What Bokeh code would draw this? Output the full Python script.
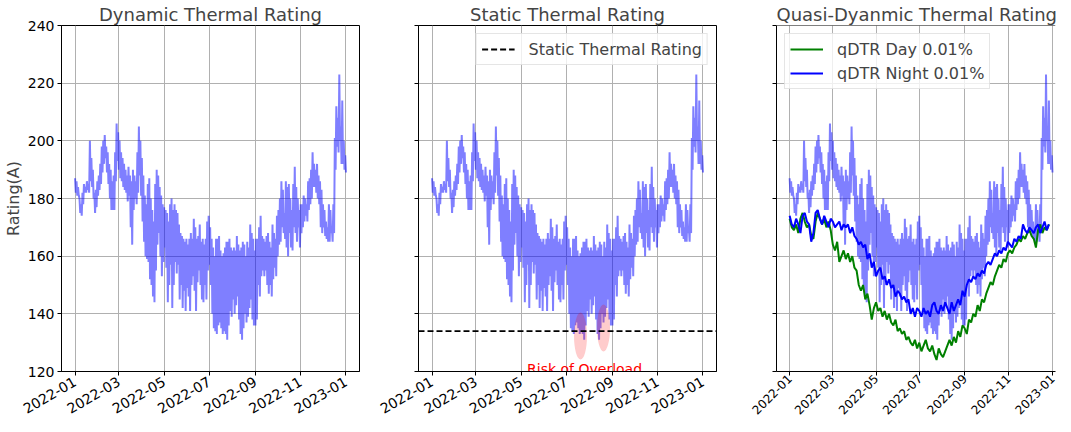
import numpy as np
import pandas as pd
from bokeh.plotting import figure
from bokeh.layouts import row
from bokeh.models import Range1d, FixedTicker, Legend, LegendItem, Span
from bokeh.core.properties import value
from bokeh.embed import file_html
from bokeh.resources import INLINE

# ---------------- data ----------------
start_date = "2022-01-01"
dtr_step_days = 2
dtr_upper = [187, 186, 184, 180, 178, 182, 185, 184, 186, 185,
             200, 194, 190, 182, 183, 186, 188, 192, 198, 200,
             202, 198, 196, 192, 190, 186, 188, 196, 206, 203,
             200, 196, 194, 192, 190, 188, 191, 188, 186, 190,
             188, 186, 196, 205, 200, 194, 188, 181, 178, 185,
             187, 180, 176, 172, 185, 190, 188, 184, 181, 178,
             177, 176, 175, 172, 178, 180, 176, 178, 176, 175,
             171, 168, 167, 166, 165, 166, 164, 166, 168, 166,
             173, 170, 166, 167, 171, 165, 166, 164, 166, 172,
             174, 170, 166, 163, 160, 166, 166, 167, 162, 160,
             161, 163, 165, 165, 166, 163, 162, 163, 162, 167,
             164, 162, 163, 165, 164, 160, 165, 163, 171, 168,
             166, 162, 166, 166, 170, 174, 167, 166, 165, 167,
             168, 165, 163, 171, 168, 166, 174, 176, 180, 186,
             183, 175, 186, 184, 185, 180, 176, 185, 191, 184,
             180, 176, 178, 178, 181, 180, 178, 186, 187, 190,
             196, 192, 190, 192, 188, 186, 183, 178, 176, 172,
             170, 178, 176, 170, 178, 201, 212, 208, 223, 205,
             214, 200, 195]
dtr_lower = [182, 181, 181, 175, 174, 178, 182, 182, 183, 182,
             186, 184, 180, 175, 177, 181, 183, 185, 189, 192,
             194, 189, 185, 180, 176, 176, 176, 186, 193, 190,
             187, 186, 184, 183, 182, 179, 181, 170, 164, 176,
             180, 178, 182, 188, 181, 172, 165, 160, 159, 158,
             152, 150, 146, 144, 155, 164, 168, 160, 153, 158,
             163, 156, 144, 150, 157, 142, 150, 158, 154, 157,
             145, 150, 142, 148, 141, 149, 146, 141, 150, 153,
             148, 141, 151, 155, 150, 145, 144, 150, 145, 155,
             157, 150, 140, 135, 134, 133, 136, 137, 135, 133,
             134, 133, 131, 136, 141, 139, 145, 140, 143, 146,
             138, 133, 131, 135, 140, 137, 139, 142, 145, 138,
             136, 136, 138, 150, 146, 153, 155, 153, 155, 150,
             147, 150, 146, 152, 156, 153, 160, 164, 165, 170,
             168, 166, 163, 160, 168, 163, 162, 170, 168, 165,
             170, 163, 168, 170, 172, 174, 172, 176, 178, 180,
             184, 184, 182, 180, 178, 170, 168, 170, 167, 166,
             165, 165, 168, 165, 168, 190, 198, 196, 200, 192,
             192, 190, 189]

qdtr_step_days = 3
qdtr_day = [173, 170, 169, 171, 168, 173, 175, 172, 170, 171,
            167, 166, 172, 175, 173, 171, 173, 170, 172, 169,
            164, 162, 165, 158, 160, 162, 159, 161, 158, 160,
            156, 155, 150, 148, 150, 145, 147, 143, 138, 142,
            144, 141, 142, 139, 141, 138, 140, 137, 136, 138,
            134, 135, 133, 134, 131, 132, 130, 129, 131, 128,
            130, 127, 129, 131, 128, 127, 129, 126, 124, 128,
            126, 125, 127, 129, 131, 129, 132, 130, 134, 132,
            136, 135, 133, 138, 137, 140, 139, 143, 141, 145,
            144, 147, 149, 151, 150, 153, 155, 157, 156, 159,
            158, 161, 162, 161, 163, 164, 166, 165, 167, 166,
            168, 169, 167, 166, 163, 169, 171, 168, 170, 169,
            171]
qdtr_night = [174, 171, 170, 173, 171, 168, 174, 175, 172, 171,
              165, 168, 175, 176, 173, 171, 174, 172, 170, 173,
              172, 170, 171, 172, 169, 171, 170, 171, 168, 170,
              167, 166, 164, 165, 163, 164, 159, 161, 156, 158,
              153, 155, 156, 152, 153, 150, 152, 149, 150, 146,
              148, 147, 145, 146, 144, 145, 140, 142, 139, 142,
              141, 139, 142, 140, 141, 139, 143, 144, 141, 140,
              143, 141, 144, 142, 140, 144, 141, 143, 145, 143,
              148, 146, 150, 152, 151, 153, 152, 154, 153, 155,
              154, 157, 158, 157, 159, 161, 160, 162, 161, 163,
              162, 165, 164, 163, 166, 165, 167, 166, 171, 169,
              168, 170, 169, 168, 170, 171, 168, 170, 172, 169,
              171]

static_rating = 134
overload_dates = ["2022-07-20", "2022-08-20"]
overload_levels = [132.3, 135.1]
overload_label = "Risk of Overload"
overload_label_date = "2022-05-09"
overload_label_level = 121

tick_labels = ["2022-01", "2022-03", "2022-05", "2022-07", "2022-09", "2022-11", "2023-01"]
y_ticks = [120, 140, 160, 180, 200, 220, 240]
titles = ["Dynamic Thermal Rating", "Static Thermal Rating", "Quasi-Dyanmic Thermal Rating"]

# ---------------- derived ----------------
t0 = pd.Timestamp(start_date)
day = pd.Timedelta(days=1)
dtr_x, dtr_y = [], []
for i, (u, l) in enumerate(zip(dtr_upper, dtr_lower)):
    dtr_x.append(t0 + i * dtr_step_days * day)
    dtr_y.append(u)
    dtr_x.append(t0 + (i * dtr_step_days + 1) * day)
    dtr_y.append(l)
dtr_x = pd.DatetimeIndex(dtr_x)
q_x = pd.DatetimeIndex([t0 + i * qdtr_step_days * day for i in range(len(qdtr_day))])

def ms(ts):
    return pd.Timestamp(ts).value / 1e6

DAY_MS = 86400000.0
tick_ms = [ms(l + "-01") for l in tick_labels]
data_first = ms(dtr_x[0])
data_last = ms(t0 + pd.Timedelta(days=364, hours=23))
margin = 0.05 * (data_last - data_first)
x0 = data_first - margin
x1 = data_last + margin

FONT = "DejaVu Sans"
FRAME_W = 298
FRAME_H = 346
FRAME3_W = 279
# panel 3: same left margin, last tick 3px inside the frame
px_per_ms3 = (FRAME3_W - 3) / (tick_ms[-1] - x0)
x1_3 = x0 + FRAME3_W / px_per_ms3


def make_fig(frame_w, bl, br, xend, title, angle, label_size, label_standoff, show_ylabels):
    p = figure(frame_width=frame_w, frame_height=FRAME_H, x_axis_type="datetime",
               x_range=Range1d(x0, xend), y_range=Range1d(120, 240),
               output_backend="svg", toolbar_location=None,
               min_border_left=bl, min_border_right=br,
               min_border_top=20, min_border_bottom=50, title=title)
    p.title.text_font = FONT
    p.title.text_font_size = "18px"
    p.title.text_font_style = "normal"
    p.title.align = "center"
    p.title.standoff = 2
    p.outline_line_color = "black"
    p.outline_line_width = 1
    p.outline_line_alpha = 1
    p.background_fill_color = "white"
    p.border_fill_color = "white"
    p.xaxis.ticker = FixedTicker(ticks=tick_ms)
    p.xaxis.major_label_overrides = {t: l for t, l in zip(tick_ms, tick_labels)}
    p.xaxis.major_label_orientation = angle
    p.yaxis.ticker = FixedTicker(ticks=y_ticks)
    for ax in (p.xaxis[0], p.yaxis[0]):
        ax.major_label_text_font = FONT
        ax.major_label_text_font_size = "14px"
        ax.major_label_text_color = "black"
        ax.major_tick_out = 4
        ax.major_tick_in = 0
        ax.minor_tick_out = 0
        ax.minor_tick_in = 0
        ax.axis_line_color = "black"
        ax.major_tick_line_color = "black"
    p.xaxis.major_label_text_font_size = label_size
    p.xaxis.major_label_standoff = label_standoff
    p.yaxis.major_label_standoff = 3
    if show_ylabels:
        p.yaxis.axis_label = "Rating(A)"
        p.yaxis.axis_label_text_font = FONT
        p.yaxis.axis_label_text_font_size = "16px"
        p.yaxis.axis_label_text_font_style = "normal"
        p.yaxis.axis_label_standoff = 2
    else:
        p.yaxis.major_label_overrides = {t: "" for t in y_ticks}
        p.yaxis.major_label_standoff = 0
    p.grid.grid_line_color = "#b0b0b0"
    p.grid.grid_line_width = 1
    p.xgrid.ticker = FixedTicker(ticks=tick_ms)
    p.ygrid.ticker = FixedTicker(ticks=y_ticks)
    return p


def style_legend(leg, loc):
    leg.location = loc
    leg.label_text_font = FONT
    leg.label_text_font_size = "16px"
    leg.border_line_color = "#cccccc"
    leg.border_line_width = 1
    leg.background_fill_alpha = 0.8
    leg.glyph_width = 33
    leg.glyph_height = 20
    leg.label_height = 20
    leg.label_standoff = 14
    leg.padding = 5
    leg.spacing = 4
    leg.margin = 8


p1 = make_fig(FRAME_W, 55, 5, x1, titles[0], np.pi / 6, "14px", 5, True)
p2 = make_fig(FRAME_W, 54, 5, x1, titles[1], np.pi / 6, "14px", 5, False)
p3 = make_fig(FRAME3_W, 55, 6, x1_3, titles[2], np.pi / 4, "12px", 1, False)

for p in (p1, p2, p3):
    p.line(dtr_x, dtr_y, line_color="blue", line_alpha=0.5, line_width=2)

# static rating panel
p2.ellipse(x=pd.DatetimeIndex(overload_dates), y=overload_levels,
           width=17.5 * DAY_MS, height=16.3,
           fill_color="red", fill_alpha=0.2, line_color=None)
sr = p2.line([x0, x1], [static_rating, static_rating], line_color="black",
             line_width=1.8, line_dash="6 3")
p2.text(x=[pd.Timestamp(overload_label_date)], y=[overload_label_level], text=[overload_label],
        text_color="red", text_font=value(FONT), text_font_size="14px",
        text_baseline="alphabetic", text_align="left")
leg2 = Legend(items=[LegendItem(label="Static Thermal Rating", renderers=[sr])])
style_legend(leg2, "top_right")
p2.add_layout(leg2)

# quasi-dynamic panel
rd = p3.line(q_x, qdtr_day, line_color="green", line_width=2)
rn = p3.line(q_x, qdtr_night, line_color="blue", line_width=2)
leg3 = Legend(items=[LegendItem(label="qDTR Day 0.01%", renderers=[rd]),
                     LegendItem(label="qDTR Night 0.01%", renderers=[rn])])
style_legend(leg3, "top_left")
p3.add_layout(leg3)
p3.title.align = "left"
p3.title.offset = 0
p3.outline_line_color = None
p3.add_layout(Span(location=240, dimension="width", line_color="black", line_width=1))

layout = row(p1, p2, p3)
open("out.html", "w").write(file_html(layout, INLINE))
